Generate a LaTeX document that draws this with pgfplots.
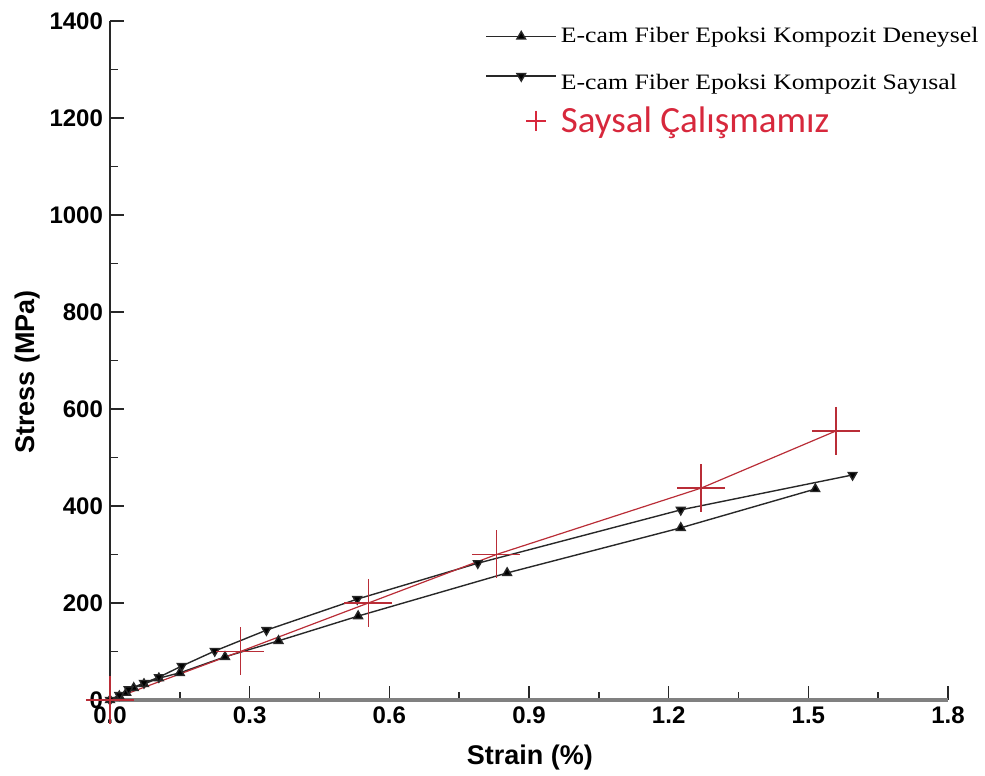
\documentclass[border=0pt]{standalone}
\usepackage{graphicx}
\usepackage{pgfplots}
\pgfplotsset{compat=1.18}
\usepackage{fontspec}
\setmainfont{Liberation Sans}
\newfontfamily\timesf{Liberation Serif}
\newfontfamily\calib{Carlito}
\definecolor{plred}{RGB}{185,45,55}
\definecolor{lgred}{RGB}{215,40,60}
\definecolor{lblack}{RGB}{40,40,40}
\begin{document}
\begin{tikzpicture}
\useasboundingbox (0,0) rectangle (492.5pt,388pt);
\begin{axis}[
  at={(55pt,38pt)}, anchor=south west,
  width=419pt, height=339.5pt, scale only axis,
  xmin=0, xmax=1.8, ymin=0, ymax=1400,
  axis lines=left,
  x axis line style={-, draw=gray, line width=2pt},
  y axis line style={-, draw=lblack, line width=1pt},
  xtick={0,0.3,0.6,0.9,1.2,1.5,1.8},
  ytick={0,200,400,600,800,1000,1200,1400},
  minor x tick num=1, minor y tick num=1,
  tick align=inside, major tick length=7pt, minor tick length=4pt,
  tick style={lblack, line width=0.8pt},
  scaled ticks=false,
  /pgf/number format/assume math mode=true,
  xticklabel style={/pgf/number format/fixed, /pgf/number format/fixed zerofill, /pgf/number format/precision=1, font=\bfseries\fontsize{12}{14}\selectfont},
  yticklabel style={/pgf/number format/1000 sep={}, font=\bfseries\fontsize{12}{14}\selectfont},
  xlabel={Strain (\%)},
  ylabel={Stress (MPa)},
  xlabel style={font=\bfseries\fontsize{13.5}{16}\selectfont, at={(axis description cs:0.501,-0.084)}, anchor=center},
  ylabel style={font=\bfseries\fontsize{13.5}{16}\selectfont, at={(axis description cs:-0.099,0.483)}, anchor=center},
  legend style={draw=none, fill=none, at={(axis description cs:0.4405,1.003)}, anchor=north west, row sep=3pt, nodes={inner xsep=2pt}},
  legend cell align=left,
  clip=false,
]
\addplot[lblack, line width=0.7pt, mark=triangle*, mark size=2.5pt, mark options={fill=black},
  legend image code/.code={\draw[mark repeat=2,mark phase=2] plot coordinates {(0pt,0pt) (17.5pt,0pt) (35pt,0pt)};}]
coordinates {(0,0) (0.02,8) (0.035,15) (0.051,25) (0.073,33) (0.105,45) (0.15,56) (0.247,89) (0.362,122) (0.533,173) (0.853,262) (1.226,355) (1.515,435)};
\addlegendentry{\timesf\fontsize{11}{13}\selectfont\scalebox{1.17}[1]{E-cam Fiber Epoksi Kompozit Deneysel}}
\addplot[lblack, line width=0.7pt, mark=triangle*, mark size=2.5pt, mark options={fill=black, rotate=180},
  legend image code/.code={\draw[mark repeat=2,mark phase=2] plot coordinates {(0pt,0pt) (17.5pt,0pt) (35pt,0pt)};}]
coordinates {(0,0) (0.02,10) (0.04,22) (0.073,35) (0.105,47) (0.154,70) (0.225,101) (0.336,144) (0.531,208) (0.79,282) (1.226,392) (1.595,464)};
\addlegendentry{\timesf\fontsize{11}{13}\selectfont\rule{0pt}{15pt}\scalebox{1.17}[1]{E-cam Fiber Epoksi Kompozit Say\i sal}}
\addplot[plred, line width=0.6pt, mark=+, mark size=12pt, mark options={line width=0.8pt},
  legend image code/.code={\path (0pt,0pt) (35pt,0pt); \draw[lgred, mark size=5pt, line width=1.2pt] plot coordinates {(25pt,0pt)};}]
coordinates {(0,0) (0.28,100) (0.555,200) (0.83,300) (1.27,437) (1.56,555)};
\addlegendentry{\calib\fontsize{18.5}{20}\selectfont\textcolor{lgred}{Saysal Çalışmamız}}
\end{axis}
\end{tikzpicture}
\end{document}
